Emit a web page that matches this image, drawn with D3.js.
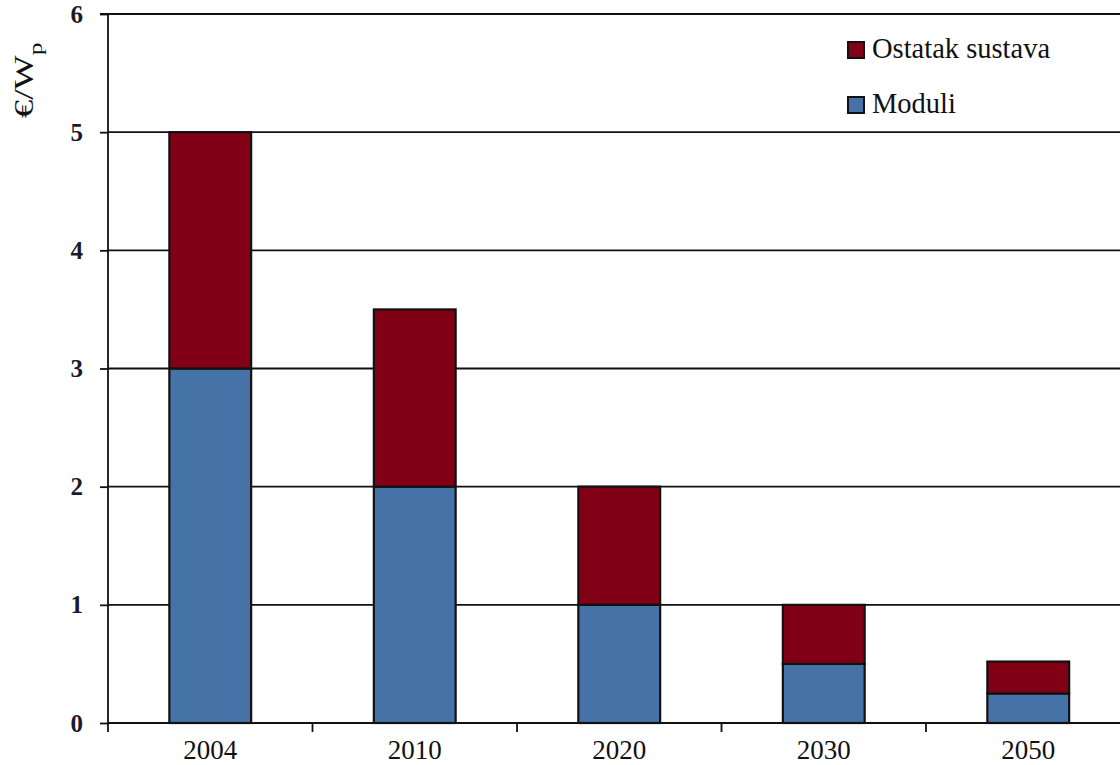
<!DOCTYPE html>
<html><head><meta charset="utf-8">
<script src="https://cdn.jsdelivr.net/npm/d3@7"></script>
<style>html,body{margin:0;padding:0;background:#fff;overflow:hidden}
svg text{font-family:"Liberation Serif","Times New Roman",Times,"DejaVu Serif",serif;}</style>
</head><body>
<svg id="c" width="1120" height="765"></svg>
<script>
const categories = ["2004", "2010", "2020", "2030", "2050"];
const moduli = [3, 2, 1, 0.5, 0.25];
const ostatak = [2, 1.5, 1, 0.5, 0.27];
const yTicks = [0, 1, 2, 3, 4, 5, 6];
const seriesNames = ["Ostatak sustava", "Moduli"];
const colors = {"Moduli": "#4673a7", "Ostatak sustava": "#820016"};

(function () {
const svg = d3.select("#c");
const mLeft = 108, mTop = 14, mBottom = 723, mRight = 1130.5;
const x = d3.scaleBand().domain(categories).range([mLeft, mRight]).padding(0);
const y = d3.scaleLinear().domain([0, 6]).range([mBottom, mTop]);

// gridlines
svg.append("g").selectAll("line").data(yTicks.filter(d => d > 0)).join("line")
  .attr("x1", mLeft).attr("x2", 1120).attr("y1", d => y(d)).attr("y2", d => y(d))
  .attr("stroke", "#111").attr("stroke-width", 1.8);

const data = categories.map((c, i) => ({c, m: moduli[i], o: ostatak[i]}));
const bw = x.bandwidth() * 0.4;
const g = svg.append("g");
data.forEach(d => {
  const bx = x(d.c) + (x.bandwidth() - bw) / 2;
  g.append("rect").attr("x", bx).attr("width", bw)
    .attr("y", y(d.m)).attr("height", y(0) - y(d.m))
    .attr("fill", colors["Moduli"]).attr("stroke", "#111").attr("stroke-width", 2.2);
  g.append("rect").attr("x", bx).attr("width", bw)
    .attr("y", y(d.m + d.o)).attr("height", y(d.m) - y(d.m + d.o))
    .attr("fill", colors["Ostatak sustava"]).attr("stroke", "#111").attr("stroke-width", 2.2);
});

// y axis
const ya = svg.append("g").attr("transform", `translate(${mLeft},0)`)
  .call(d3.axisLeft(y).tickValues(yTicks).tickFormat(d3.format("d")).tickSize(8).tickPadding(17));
ya.attr("font-family", null);
ya.select(".domain").attr("stroke", "#111").attr("stroke-width", 1.8).attr("d", `M-8,${mTop}H0V${mBottom}`);
ya.selectAll(".tick line").attr("stroke", "#111").attr("stroke-width", 1.8);
ya.selectAll(".tick text").attr("font-size", 25).attr("font-weight", "bold").attr("fill", "#1a1a2a");

// x axis
const xa = svg.append("g").attr("transform", `translate(0,${mBottom})`)
  .call(d3.axisBottom(x).tickSize(0));
xa.attr("font-family", null);
xa.select(".domain").attr("stroke", "#111").attr("stroke-width", 1.8).attr("d", `M${mLeft},0H1120`);
xa.selectAll(".tick text").attr("font-size", 27).attr("fill", "#111")
  .attr("y", 36).attr("dy", 0);
svg.append("g").selectAll("line").data(categories).join("line")
  .attr("x1", d => x(d)).attr("x2", d => x(d))
  .attr("y1", mBottom).attr("y2", mBottom + 9)
  .attr("stroke", "#111").attr("stroke-width", 1.8);

// y label
const yl = svg.append("text").attr("transform", "translate(33,118) rotate(-90) scale(1.35,1)")
  .attr("text-anchor", "start").attr("font-size", 27).attr("fill", "#111");
yl.append("tspan").text("€/W");
yl.append("tspan").attr("font-size", 19).attr("dy", 9).text("p");

// legend
const leg = svg.append("g");
seriesNames.forEach((s, i) => {
  const ly = 42 + i * 55;
  leg.append("rect").attr("x", 848).attr("y", ly).attr("width", 16).attr("height", 16)
    .attr("fill", colors[s]).attr("stroke", "#111").attr("stroke-width", 2);
  leg.append("text").attr("x", 872).attr("y", ly + 16)
    .attr("font-size", 28.5).attr("fill", "#111").text(s);
});
})();
</script>
</body></html>
